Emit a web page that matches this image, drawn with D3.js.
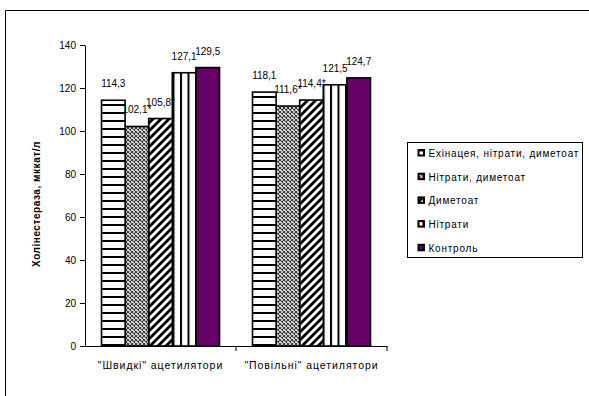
<!DOCTYPE html>
<html>
<head>
<meta charset="utf-8">
<script src="https://cdn.jsdelivr.net/npm/d3@7/dist/d3.min.js"></script>
<style>
  html, body { margin: 0; padding: 0; background: #fff; }
  svg { display: block; }
  text { font-family: "Liberation Sans", Arial, sans-serif; }
</style>
</head>
<body>
<svg id="chart" width="589" height="396"></svg>
<script>
// Acetylator groups and treatment series
const categories = ['"Швидкі" ацетилятори', '"Повільні" ацетилятори'];
const seriesNames = ["Ехінацея, нітрати, диметоат", "Нітрати, диметоат", "Диметоат", "Нітрати", "Контроль"];
const fastValues = [114.3, 102.1, 105.8, 127.1, 129.5];
const slowValues = [118.1, 111.6, 114.4, 121.5, 124.7];
const fastLabels = ["114,3", "102,1*", "105,8*", "127,1", "129,5"];
const slowLabels = ["118,1", "111,6*", "114,4*", "121,5", "124,7"];
const yTicks = [0, 20, 40, 60, 80, 100, 120, 140];
const yTitle = "Холінестераза, мккат/л";

const values = [fastValues, slowValues];
const labels = [fastLabels, slowLabels];

const svg = d3.select("#chart");
const W = 589, H = 396;
const plot = { left: 85, right: 387, top: 45, bottom: 346 };

svg.append("rect").attr("width", W).attr("height", H).attr("fill", "#fff");

// Fill patterns for each series
const defs = svg.append("defs");
const pat = (id, w, h) => defs.append("pattern").attr("id", id)
  .attr("patternUnits", "userSpaceOnUse").attr("width", w).attr("height", h);

const p0 = pat("p0", 8, 8);
p0.append("rect").attr("width", 8).attr("height", 8).attr("fill", "#fff");
p0.append("rect").attr("y", 0).attr("width", 8).attr("height", 2).attr("fill", "#000");

const p1 = pat("p1", 4, 4);
p1.append("rect").attr("width", 4).attr("height", 4).attr("fill", "#fff");
p1.append("path").attr("d", "M0,0L4,4M4,0L0,4").attr("stroke", "#333").attr("stroke-width", 1.1);

const p2 = pat("p2", 8, 8);
p2.append("rect").attr("width", 8).attr("height", 8).attr("fill", "#fff");
p2.append("path").attr("d", "M-2,2L2,-2M0,8L8,0M6,10L10,6").attr("stroke", "#000").attr("stroke-width", 2.8);

const p3 = pat("p3", 7.5, 8);
p3.append("rect").attr("width", 7.5).attr("height", 8).attr("fill", "#fff");
p3.append("rect").attr("x", 0).attr("width", 2).attr("height", 8).attr("fill", "#000");

const fills = ["url(#p0)", "url(#p1)", "url(#p2)", "url(#p3)", "#660066"];

// Scales
const x0 = d3.scaleBand().domain(categories).range([plot.left, plot.right]);
const x1 = d3.scaleBand().domain(seriesNames).range([16.5, x0.bandwidth() - 16.5]);
const y = d3.scaleLinear().domain([0, 140]).range([plot.bottom, plot.top]);

// Outer frame
svg.append("path").attr("d", `M5.5,${H + 2}V10.5H${W + 2}`)
  .attr("fill", "none").attr("stroke", "#000").attr("stroke-width", 1);

// Y axis
const yAxis = svg.append("g").attr("transform", `translate(${plot.left},0)`)
  .call(d3.axisLeft(y).tickValues(yTicks).tickSize(5).tickPadding(4).tickSizeOuter(0));
yAxis.select(".domain").attr("stroke", "#000");
yAxis.selectAll("text").attr("font-size", 10).attr("fill", "#000");

// X axis
const xAxis = svg.append("g").attr("transform", `translate(0,${plot.bottom})`)
  .call(d3.axisBottom(x0).tickSize(0).tickPadding(16).tickSizeOuter(0));
xAxis.select(".domain").attr("stroke", "#000");
xAxis.selectAll("text").attr("font-size", 10.5).attr("letter-spacing", 0.95).attr("fill", "#000");
xAxis.selectAll(".sep").data(categories).enter().append("line")
  .attr("x1", d => x0(d) + x0.bandwidth()).attr("x2", d => x0(d) + x0.bandwidth())
  .attr("y1", 0).attr("y2", 5).attr("stroke", "#000");

// Bars and value labels, drawn series by series from last to first
const barsG = svg.append("g");
for (let s = seriesNames.length - 1; s >= 0; s--) {
  const data = categories.map((c, ci) => ({ c, v: values[ci][s], t: labels[ci][s] }));
  const g = barsG.append("g");
  g.selectAll("rect").data(data).enter().append("rect")
    .attr("x", d => x0(d.c) + x1(seriesNames[s]))
    .attr("y", d => y(d.v))
    .attr("width", x1.bandwidth())
    .attr("height", d => y(0) - y(d.v))
    .attr("fill", fills[s])
    .attr("stroke", "#000").attr("stroke-width", 1.6);
  g.selectAll("text").data(data).enter().append("text")
    .attr("x", d => x0(d.c) + x1(seriesNames[s]) + x1.bandwidth() / 2)
    .attr("y", d => y(d.v) - 13)
    .attr("text-anchor", "middle").attr("font-size", 10).attr("fill", "#000")
    .text(d => d.t);
}

// Y axis title
svg.append("text")
  .attr("transform", `translate(40,204) rotate(-90)`)
  .attr("text-anchor", "middle").attr("font-size", 10).attr("font-weight", "bold")
  .attr("letter-spacing", 0.55)
  .text(yTitle);

// Legend
const lg = svg.append("g").attr("transform", "translate(407.5,142.5)");
lg.append("rect").attr("width", 175).attr("height", 115)
  .attr("fill", "#fff").attr("stroke", "#000").attr("stroke-width", 1);
const item = lg.selectAll(".item").data(seriesNames).enter().append("g")
  .attr("transform", (d, i) => `translate(0,${7 + i * 23.7})`);
item.append("rect").attr("x", 11).attr("y", 0.5).attr("width", 5.5).attr("height", 5.5)
  .attr("fill", (d, i) => fills[i]).attr("stroke", "#000").attr("stroke-width", 2);
item.append("text").attr("x", 21).attr("y", 7.5)
  .attr("font-size", 10).attr("letter-spacing", 0.78).attr("fill", "#000").text(d => d);
</script>
</body>
</html>
